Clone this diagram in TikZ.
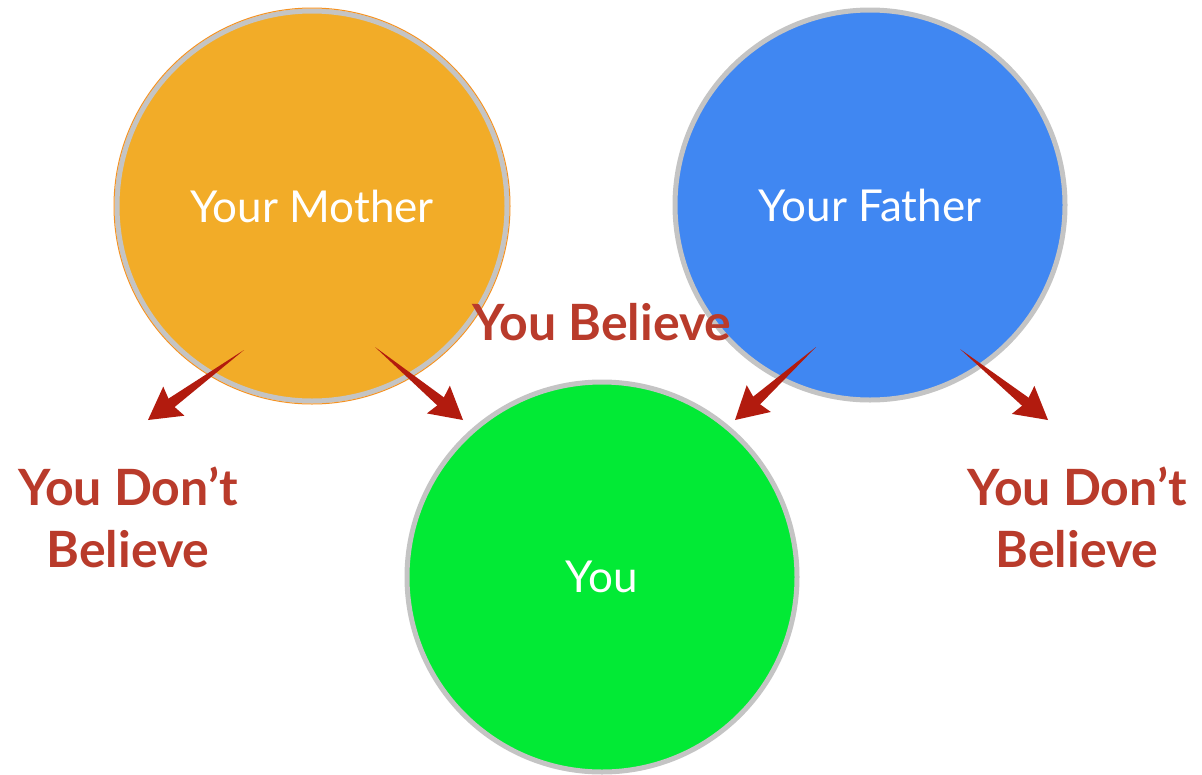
\documentclass[tikz,border=0pt]{standalone}
\usepackage{fontspec}
\setmainfont{Lato}
\usetikzlibrary{calc}
\definecolor{mom}{HTML}{F2AC28}
\definecolor{dad}{HTML}{4087F2}
\definecolor{kid}{HTML}{02EA35}
\definecolor{ring}{HTML}{C4C4C4}
\definecolor{txtred}{HTML}{B93B2B}
\definecolor{arrred}{HTML}{B21B0E}
\tikzset{
  bubble/.style={circle, minimum size=390pt, inner sep=0pt, draw=ring, line width=5pt, text=white, font=\fontsize{44}{48}\selectfont},
  redtxt/.style={text=txtred, font=\bfseries\fontsize{50}{62}\selectfont, align=center, inner sep=0pt},
  arrfill/.style={fill=arrred}
}
\newcommand{\taperarrow}[2]{%
  \fill[arrfill] (#1) -- ($($(#2)!24pt!(#1)$)!5.5pt!90:(#1)$) -- ($($(#2)!24pt!(#1)$)!5.5pt!-90:(#1)$) -- cycle;
  \fill[arrfill] (#2) -- ($($(#2)!32pt!(#1)$)!18pt!90:(#1)$) -- ($($(#2)!28pt!(#1)$)$) -- ($($(#2)!32pt!(#1)$)!18pt!-90:(#1)$) -- cycle;
}
\begin{document}
\begin{tikzpicture}[x=1pt,y=-1pt]
\useasboundingbox (0,0) rectangle (1202,774);
\fill[white] (0,0) rectangle (1202,774);
\node[bubble, fill=mom] (mother) at (312,206) {Your Mother};
\draw[mom!85!red, line width=1pt] (mother.center) circle (198pt);
\node[bubble, fill=dad] (father) at (870,205) {Your Father};
\node[bubble, fill=kid] (you) at (602,577) {You};
\node[redtxt] (believe) at (602,322) {You Believe};
\node[redtxt] (dl) at (128,517) {You Don’t\\Believe};
\node[redtxt] (dr) at (1077,517) {You Don’t\\Believe};
\coordinate (a1s) at (244,350); \coordinate (a1e) at (148,420);
\coordinate (a2s) at (375,347); \coordinate (a2e) at (463,420);
\coordinate (a3s) at (816,347); \coordinate (a3e) at (735,420);
\coordinate (a4s) at (960,349); \coordinate (a4e) at (1048,420);
\taperarrow{a1s}{a1e}
\taperarrow{a2s}{a2e}
\taperarrow{a3s}{a3e}
\taperarrow{a4s}{a4e}
\end{tikzpicture}
\end{document}
